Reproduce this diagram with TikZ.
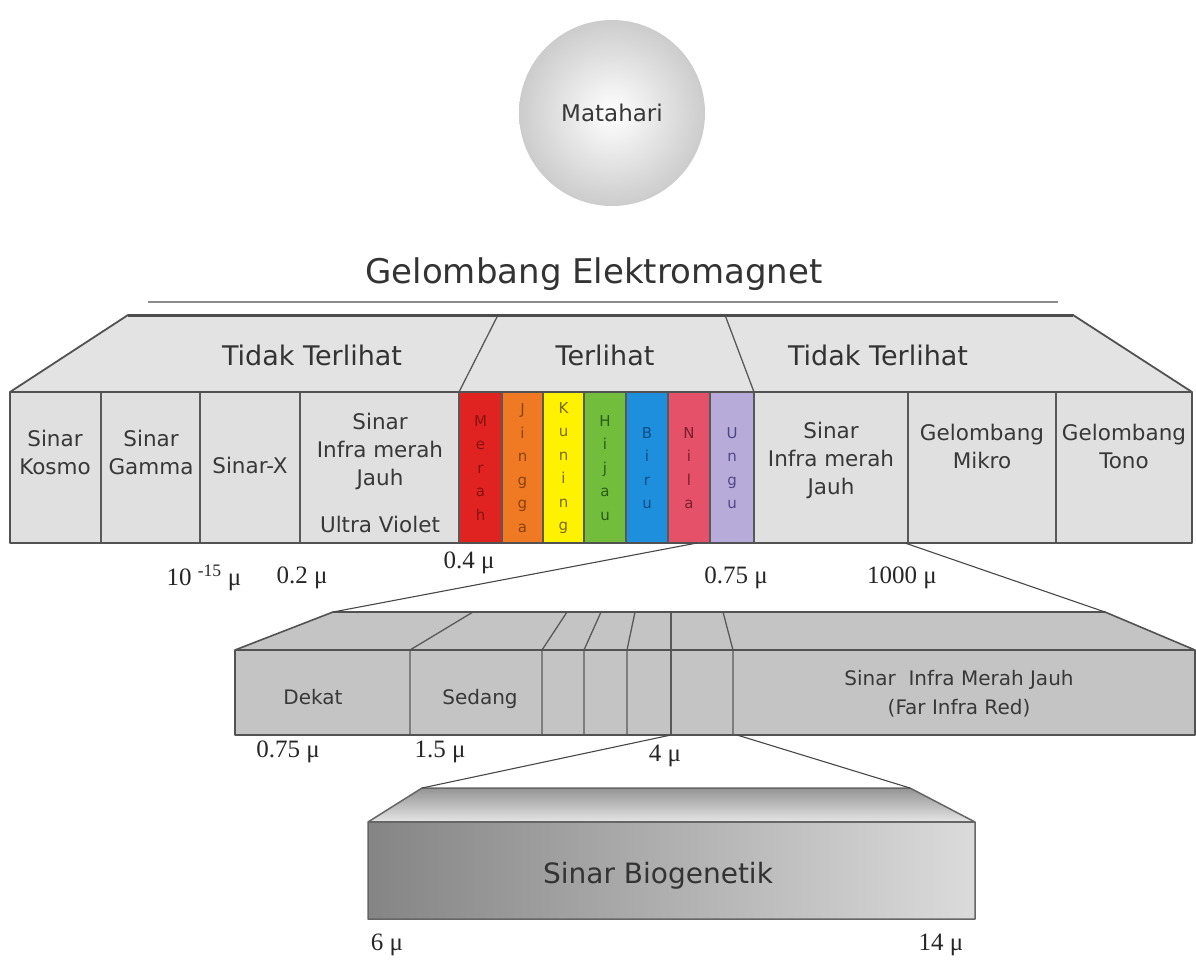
\documentclass[tikz,border=0pt]{standalone}
\usepackage{fontspec}
\setmainfont{Liberation Serif}
\newfontfamily\dejavu{DejaVu Sans}
\definecolor{cR}{HTML}{E02321}\definecolor{tR}{HTML}{8A1210}
\definecolor{cO}{HTML}{F07A23}\definecolor{tO}{HTML}{8C4210}
\definecolor{cY}{HTML}{FFF200}\definecolor{tY}{HTML}{7A6A10}
\definecolor{cG}{HTML}{72BE3C}\definecolor{tG}{HTML}{285E18}
\definecolor{cB}{HTML}{1D8FDD}\definecolor{tB}{HTML}{104E82}
\definecolor{cP}{HTML}{E6516A}\definecolor{tP}{HTML}{7E1E2D}
\definecolor{cV}{HTML}{B7ACD9}\definecolor{tV}{HTML}{4F4688}
\begin{document}
\begin{tikzpicture}[x=1pt,y=-1pt,
  outline/.style={draw=black!68,line width=1.8pt,line join=round},
  divider/.style={draw=black!65,line width=1.3pt},
  link/.style={draw=black!72,line width=1.1pt},
  title/.style={font=\dejavu\fontsize{34}{40}\selectfont,text=black!80},
  hdr/.style={font=\dejavu\fontsize{27}{32}\selectfont,text=black!80},
  cell/.style={font=\dejavu\fontsize{21.5}{28}\selectfont,text=black!78,align=center},
  vis/.style={font=\dejavu\fontsize{15}{23.5}\selectfont,align=center},
  num/.style={font=\fontsize{25}{28}\selectfont,text=black!85},
  mid/.style={font=\dejavu\fontsize{20}{29}\selectfont,text=black!78,align=center},
  bio/.style={font=\dejavu\fontsize{28}{32}\selectfont,text=black!80}]
\useasboundingbox (0,0) rectangle (1196,961);

% Sun
\node[circle,minimum size=186pt,inner sep=0pt,inner color=white,outer color=black!20,
      font=\dejavu\fontsize{23}{26}\selectfont,text=black!78] (sun) at (612,113) {Matahari};

% Title
\node[title] (title) at (594,274) {Gelombang Elektromagnet};
\coordinate (tl) at (148,302);
\coordinate (tr) at (1058,302);
\draw[draw=black!45,line width=2.5pt] (tl) -- (tr);

% Top trapezoid
\coordinate (A1) at (10,392); \coordinate (A2) at (128,315);
\coordinate (A3) at (1073,315); \coordinate (A4) at (1192,392);
\fill[black!11] (A1) -- (A2) -- (A3) -- (A4) -- cycle;
\coordinate (s1t) at (498,315); \coordinate (s1b) at (459,392);
\coordinate (s2t) at (725,315); \coordinate (s2b) at (754,392);
\draw[divider] (s1t) -- (s1b);
\draw[divider] (s2t) -- (s2b);
\draw[outline] (A1) -- (A2) -- (A3) -- (A4);
\draw[draw=black!70,line width=3pt] (A2) -- (A3);
\node[hdr] (h1) at (312,355) {Tidak Terlihat};
\node[hdr] (h2) at (605,355) {Terlihat};
\node[hdr] (h3) at (878,355) {Tidak Terlihat};

% Main band
\coordinate (B1) at (10,392); \coordinate (B2) at (1192,543);
\fill[black!12] (B1) rectangle (B2);
\foreach \xa/\xb/\fc/\tc/\lw [count=\i] in
  {459/502/cR/tR/{M\\e\\r\\a\\h},
   502/543/cO/tO/{J\\i\\n\\g\\g\\a},
   543/584/cY/tY/{K\\u\\n\\i\\n\\g},
   584/626/cG/tG/{H\\i\\j\\a\\u},
   626/668/cB/tB/{B\\i\\r\\u},
   668/710/cP/tP/{N\\i\\l\\a},
   710/754/cV/tV/{U\\n\\g\\u}}{
  \fill[\fc] (\xa,392) rectangle (\xb,543);
  \draw[divider] (\xa,392) -- (\xa,543);
  \node[vis,text=\tc] (vis\i) at ({(\xa+\xb)/2},468) {\lw};
}
\foreach \x [count=\i] in {101,200,300,754,908,1056}{
  \coordinate (dt\i) at (\x,392); \coordinate (db\i) at (\x,543);
  \draw[divider] (dt\i) -- (db\i);
}
\draw[outline] (B1) rectangle (B2);

\node[cell] (c1) at (55,452) {Sinar\\Kosmo};
\node[cell] (c2) at (151,452) {Sinar\\Gamma};
\node[cell] (c3) at (250,465) {Sinar-X};
\node[cell] (c4) at (380,451) {Sinar\\Infra merah\\Jauh};
\node[cell] (c5) at (380,524) {Ultra Violet};
\node[cell] (c6) at (831,460) {Sinar\\Infra merah\\Jauh};
\node[cell] (c7) at (982,446) {Gelombang\\Mikro};
\node[cell] (c8) at (1124,446) {Gelombang\\Tono};

\node[num] (n1) at (204,578) {10 \textsuperscript{-15} μ};
\node[num] (n2) at (302,578) {0.2 μ};
\node[num] (n3) at (469,563) {0.4 μ};
\node[num] (n4) at (736,578) {0.75 μ};
\node[num] (n5) at (902,578) {1000 μ};

% Middle band
\coordinate (M1) at (235,650); \coordinate (M2) at (333,612);
\coordinate (M3) at (1105,612); \coordinate (M4) at (1195,650);
\coordinate (M5) at (1195,735); \coordinate (M6) at (235,735);
\fill[black!23] (M1) -- (M2) -- (M3) -- (M4) -- (M5) -- (M6) -- cycle;
\foreach \xf/\xt [count=\i] in {410/473,542/567,584/601,627/635,671/671,733/723}{
  \coordinate (mf\i) at (\xf,650); \coordinate (mt\i) at (\xt,612);
  \coordinate (mb\i) at (\xf,735);
  \draw[divider] (mb\i) -- (mf\i) -- (mt\i);
}
\draw[outline,line width=1.6pt] (M1) -- (M2) -- (M3) -- (M4) -- (M5) -- (M6) -- cycle;
\draw[outline,line width=1.6pt] (M1) -- (M4);
\node[mid] (d1) at (313,697) {Dekat};
\node[mid] (d2) at (480,699) {Sedang};
\node[mid] (d3) at (959,694) {Sinar\ \ Infra Merah Jauh\\(Far Infra Red)};
\node[num] (n6) at (288,752) {0.75 μ};
\node[num] (n7) at (440,752) {1.5 μ};
\node[num] (n8) at (665,756) {4 μ};

% connectors main -> middle
\coordinate (p1) at (697,543); \coordinate (p2) at (905,543);
\draw[link] (p1) -- (M2);
\draw[link] (p2) -- (M3);

% Bottom band
\coordinate (L1) at (368,822); \coordinate (L2) at (422,788);
\coordinate (L3) at (910,788); \coordinate (L4) at (975,822);
\coordinate (L5) at (975,919); \coordinate (L6) at (368,919);
\shade[top color=black!42,bottom color=black!10] (L1) -- (L2) -- (L3) -- (L4) -- cycle;
\shade[left color=black!48,right color=black!14] (L1) rectangle (L5);
\draw[outline,line width=1.5pt,draw=black!60] (L1) -- (L2) -- (L3) -- (L4) -- (L5) -- (L6) -- cycle;
\draw[outline,line width=1.5pt,draw=black!60] (L1) -- (L4);
\node[bio] (bio) at (658,876) {Sinar Biogenetik};
\node[num] (n9) at (387,945) {6 μ};
\node[num] (n10) at (941,945) {14 μ};

% connectors middle -> bottom
\coordinate (q1) at (671,735); \coordinate (q2) at (737,735);
\draw[link] (q1) -- (L2);
\draw[link] (q2) -- (L3);
\end{tikzpicture}
\end{document}
